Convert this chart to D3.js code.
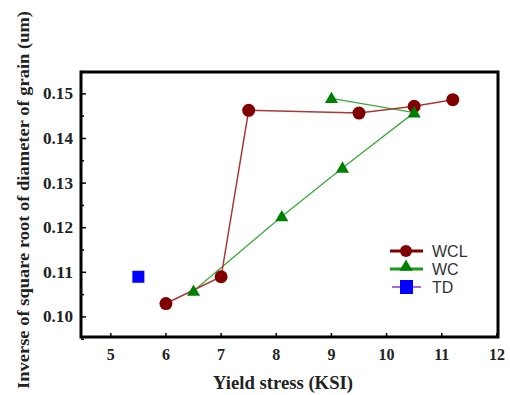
<!DOCTYPE html>
<html>
<head>
<meta charset="utf-8">
<script src="https://cdn.jsdelivr.net/npm/d3@7"></script>
<style>
  body { margin: 0; background: #fff; }
  svg { display: block; }
</style>
</head>
<body>
<div id="chart"></div>
<script>
// Data
const wclX = [6, 7, 7.5, 9.5, 10.5, 11.2];
const wclY = [0.103, 0.109, 0.1463, 0.1457, 0.1472, 0.1487];
const wcX = [6.5, 8.1, 9.2, 10.5, 9.0];
const wcY = [0.1058, 0.1225, 0.1334, 0.1458, 0.149];
const tdX = [5.5];
const tdY = [0.109];
const xTicks = [5, 6, 7, 8, 9, 10, 11, 12];
const yTicks = [0.10, 0.11, 0.12, 0.13, 0.14, 0.15];
const legendNames = ['WCL', 'WC', 'TD'];

const W = 510, H = 395;
const margin = { top: 72, right: 12, bottom: 58, left: 81 };

const svg = d3.select('#chart')
    .append('svg')
    .attr('width', W)
    .attr('height', H);

const x = d3.scaleLinear().domain([4.46, 12.02]).range([margin.left, W - margin.right]);
const y = d3.scaleLinear().domain([0.0955, 0.1549]).range([H - margin.bottom, margin.top]);

const zip = (xs, ys) => xs.map((v, i) => ({ x: v, y: ys[i] }));
const wcl = zip(wclX, wclY);
const wc = zip(wcX, wcY);
const td = zip(tdX, tdY);

const line = d3.line().x(d => x(d.x)).y(d => y(d.y));

// Frame
svg.append('rect')
    .attr('x', margin.left)
    .attr('y', margin.top)
    .attr('width', W - margin.right - margin.left)
    .attr('height', H - margin.bottom - margin.top)
    .attr('fill', 'none')
    .attr('stroke', 'black')
    .attr('stroke-width', 3);

// Ticks pointing inward
const serif = '"Liberation Serif", "DejaVu Serif", serif';

svg.append('g')
    .selectAll('line')
    .data(xTicks)
    .enter()
    .append('line')
    .attr('x1', d => x(d))
    .attr('x2', d => x(d))
    .attr('y1', H - margin.bottom)
    .attr('y2', H - margin.bottom - 4)
    .attr('stroke', 'black')
    .attr('stroke-width', 1.5);

svg.append('g')
    .selectAll('text')
    .data(xTicks)
    .enter()
    .append('text')
    .attr('x', d => x(d))
    .attr('y', 360)
    .attr('text-anchor', 'middle')
    .attr('font-family', serif)
    .attr('font-weight', 'bold')
    .attr('font-size', 16)
    .attr('fill', '#222')
    .text(d => d);

const yMinor = d3.range(0.095, 0.1551, 0.005);
svg.append('g')
    .selectAll('line')
    .data(yMinor)
    .enter()
    .append('line')
    .attr('x1', margin.left)
    .attr('x2', d => margin.left + (Math.round(d * 1000) % 10 === 0 ? 5 : 3))
    .attr('y1', d => y(d))
    .attr('y2', d => y(d))
    .attr('stroke', 'black')
    .attr('stroke-width', 1.5);

svg.append('g')
    .selectAll('text')
    .data(yTicks)
    .enter()
    .append('text')
    .attr('x', 73)
    .attr('y', d => y(d) + 5.5)
    .attr('text-anchor', 'end')
    .attr('font-family', serif)
    .attr('font-weight', 'bold')
    .attr('font-size', 16)
    .attr('textLength', 30)
    .attr('lengthAdjust', 'spacingAndGlyphs')
    .attr('fill', '#222')
    .text(d => d.toFixed(2));

// Axis titles
svg.append('text')
    .attr('x', 283)
    .attr('y', 389)
    .attr('text-anchor', 'middle')
    .attr('font-family', serif)
    .attr('font-weight', 'bold')
    .attr('font-size', 18)
    .attr('textLength', 140)
    .attr('lengthAdjust', 'spacingAndGlyphs')
    .attr('fill', '#222')
    .text('Yield stress (KSI)');

svg.append('text')
    .attr('transform', 'translate(29,200) rotate(-90)')
    .attr('text-anchor', 'middle')
    .attr('font-family', serif)
    .attr('font-weight', 'bold')
    .attr('font-size', 17.5)
    .attr('textLength', 378)
    .attr('lengthAdjust', 'spacingAndGlyphs')
    .attr('fill', '#222')
    .text('Inverse of square root of diameter of grain (um)');

// WC series
svg.append('path')
    .attr('d', line(wc))
    .attr('fill', 'none')
    .attr('stroke', '#3aaa3a')
    .attr('stroke-width', 1.3);

const tri = d3.symbol().type(d3.symbolTriangle).size(75);

// WCL series
svg.append('path')
    .attr('d', line(wcl))
    .attr('fill', 'none')
    .attr('stroke', '#a83a3a')
    .attr('stroke-width', 1.5);

svg.append('g')
    .selectAll('circle')
    .data(wcl)
    .enter()
    .append('circle')
    .attr('cx', d => x(d.x))
    .attr('cy', d => y(d.y))
    .attr('r', 6.5)
    .attr('fill', '#800000');

svg.append('g')
    .selectAll('path')
    .data(wc)
    .enter()
    .append('path')
    .attr('d', tri)
    .attr('transform', d => `translate(${x(d.x)},${y(d.y) + 1})`)
    .attr('fill', '#008000');

// TD series
svg.append('g')
    .selectAll('rect')
    .data(td)
    .enter()
    .append('rect')
    .attr('x', d => x(d.x) - 6)
    .attr('y', d => y(d.y) - 6)
    .attr('width', 12)
    .attr('height', 12)
    .attr('fill', '#0000ff');

// Legend
const legendY = [251, 269, 287];
const lg = svg.append('g');
const sans = '"Liberation Sans", Arial, sans-serif';

// WCL entry
lg.append('line')
    .attr('x1', 390).attr('x2', 423)
    .attr('y1', legendY[0]).attr('y2', legendY[0])
    .attr('stroke', '#800000').attr('stroke-width', 3);
lg.append('circle')
    .attr('cx', 406).attr('cy', legendY[0]).attr('r', 6)
    .attr('fill', '#800000');

// WC entry
lg.append('line')
    .attr('x1', 390).attr('x2', 423)
    .attr('y1', legendY[1]).attr('y2', legendY[1])
    .attr('stroke', '#1a9a1a').attr('stroke-width', 3);
lg.append('path')
    .attr('d', tri)
    .attr('transform', `translate(406,${legendY[1] - 2})`)
    .attr('fill', '#008000');

// TD entry
lg.append('line')
    .attr('x1', 392).attr('x2', 421)
    .attr('y1', legendY[2]).attr('y2', legendY[2])
    .attr('stroke', '#9933cc').attr('stroke-width', 1.5);
lg.append('rect')
    .attr('x', 400).attr('y', legendY[2] - 7)
    .attr('width', 13).attr('height', 14)
    .attr('fill', '#0000ff');

lg.selectAll('text')
    .data(legendNames)
    .enter()
    .append('text')
    .attr('x', 432)
    .attr('y', (d, i) => legendY[i] + 6)
    .attr('font-family', sans)
    .attr('font-size', 16)
    .attr('fill', '#333')
    .text(d => d);
</script>
</body>
</html>
